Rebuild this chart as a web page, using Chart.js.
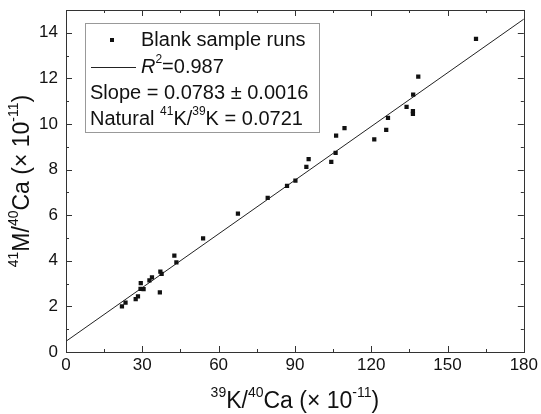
<!DOCTYPE html>
<html>

<head>
    <meta charset='utf-8'>
    <title>41M/40Ca vs 39K/40Ca</title>
    <script src="https://cdn.jsdelivr.net/npm/chart.js@4.4.1/dist/chart.umd.min.js"></script>
    <style>
        body { margin: 0; background: #fff; }
    </style>
</head>

<body>
    <canvas id="myChart" width="541" height="414"></canvas>
    <script>
        // blank sample runs (x 1e-11, y 1e-11)
        const blankX = [22.0, 23.4, 27.4, 28.3, 29.3, 29.4, 30.5, 32.8, 33.8, 37.1, 37.6, 36.9, 42.6, 43.4,
            53.9, 67.6, 79.3, 86.9, 90.2, 94.5, 95.4, 104.3, 106.0, 106.2, 109.5, 121.2, 125.9, 126.6,
            133.9, 136.5, 138.5, 136.4, 136.4, 161.2];
        const blankY = [2.00, 2.17, 2.32, 2.44, 2.77, 3.02, 2.76, 3.14, 3.27, 3.53, 3.43, 2.61, 4.23, 3.93,
            4.98, 6.07, 6.76, 7.29, 7.52, 8.12, 8.46, 8.34, 8.73, 9.49, 9.82, 9.33, 9.74, 10.27,
            10.75, 11.29, 12.08, 10.57, 10.44, 13.73];
        // linear fit end points
        const fitX = [0, 180];
        const fitY = [0.47, 14.6];

        const fontName = '"Liberation Sans", Arial, sans-serif';

        // draw text pieces, some of them superscript
        function richWidth(ctx, parts, size) {
            let w = 0;
            parts.forEach(p => {
                ctx.font = (p.it ? 'italic ' : '') + (p.sup ? Math.round(size * 0.62) : size) + 'px ' + fontName;
                w += ctx.measureText(p.t).width;
            });
            return w;
        }
        function drawRich(ctx, parts, x, y, size, align) {
            let w = richWidth(ctx, parts, size);
            let cx = align === 'center' ? x - w / 2 : x;
            ctx.textBaseline = 'middle';
            ctx.textAlign = 'left';
            parts.forEach(p => {
                ctx.font = (p.it ? 'italic ' : '') + (p.sup ? Math.round(size * 0.62) : size) + 'px ' + fontName;
                ctx.fillText(p.t, cx, p.sup ? y - size * 0.38 : y);
                cx += ctx.measureText(p.t).width;
            });
        }

        const framePlugin = {
            id: 'frame',
            afterDraw(chart) {
                const ctx = chart.ctx;
                const a = chart.chartArea;
                ctx.save();
                ctx.strokeStyle = '#333';
                ctx.lineWidth = 1;
                ctx.strokeRect(Math.round(a.left) + 0.5, Math.round(a.top) + 0.5,
                    Math.round(a.right - a.left), Math.round(a.bottom - a.top));

                // inward ticks on all four sides
                const xs = chart.scales.x, ys = chart.scales.y;
                ctx.beginPath();
                xs.ticks.forEach(t => {
                    const px = Math.round(xs.getPixelForValue(t.value)) + 0.5;
                    const len = t.value % 30 === 0 ? 6 : 3;
                    ctx.moveTo(px, a.bottom); ctx.lineTo(px, a.bottom - len);
                    ctx.moveTo(px, a.top); ctx.lineTo(px, a.top + len);
                });
                ys.ticks.forEach(t => {
                    const py = Math.round(ys.getPixelForValue(t.value)) + 0.5;
                    const len = t.value % 2 === 0 ? 6 : 3;
                    ctx.moveTo(a.left, py); ctx.lineTo(a.left + len, py);
                    ctx.moveTo(a.right, py); ctx.lineTo(a.right - len, py);
                });
                ctx.stroke();

                // axis titles
                ctx.fillStyle = '#111';
                drawRich(ctx, [{ t: '39', sup: true }, { t: 'K/' }, { t: '40', sup: true }, { t: 'Ca (× 10' },
                    { t: '-11', sup: true }, { t: ')' }], (a.left + a.right) / 2, 402, 23, 'center');
                ctx.save();
                ctx.translate(23, (a.top + a.bottom) / 2);
                ctx.rotate(-Math.PI / 2);
                drawRich(ctx, [{ t: '41', sup: true }, { t: 'M/' }, { t: '40', sup: true }, { t: 'Ca (× 10' },
                    { t: '-11', sup: true }, { t: ')' }], 0, 0, 23, 'center');
                ctx.restore();

                // legend box
                const bx = 85, by = 23, bw = 234, bh = 109;
                ctx.fillStyle = '#fff';
                ctx.fillRect(bx, by, bw, bh);
                ctx.strokeStyle = '#999';
                ctx.strokeRect(bx + 0.5, by + 0.5, bw, bh);
                ctx.fillStyle = '#111';
                ctx.fillRect(110, 38, 4, 4);
                ctx.strokeStyle = '#222';
                ctx.beginPath();
                ctx.moveTo(91, 67.5); ctx.lineTo(136, 67.5);
                ctx.stroke();
                drawRich(ctx, [{ t: 'Blank sample runs' }], 141, 40, 20, 'left');
                drawRich(ctx, [{ t: 'R', it: true }, { t: '2', sup: true }, { t: '=0.987' }], 141, 67, 20, 'left');
                drawRich(ctx, [{ t: 'Slope = 0.0783 ± 0.0016' }], 90, 93, 20, 'left');
                drawRich(ctx, [{ t: 'Natural ' }, { t: '41', sup: true }, { t: 'K/' }, { t: '39', sup: true },
                    { t: 'K = 0.0721' }], 90, 119, 20, 'left');
                ctx.restore();
            }
        };

        const ctx = document.getElementById('myChart').getContext('2d');
        const myChart = new Chart(ctx, {
            type: 'scatter',
            data: {
                datasets: [{
                        label: 'Blank sample runs',
                        data: blankX.map((x, i) => ({ x: x, y: blankY[i] })),
                        backgroundColor: '#111',
                        borderColor: '#111',
                        pointStyle: 'rect',
                        pointRadius: 3,
                        borderWidth: 0
                    },
                    {
                        type: 'line',
                        label: 'Fit',
                        data: fitX.map((x, i) => ({ x: x, y: fitY[i] })),
                        borderColor: '#222',
                        borderWidth: 1,
                        pointRadius: 0,
                        fill: false
                    }
                ]
            },
            options: {
                responsive: false,
                animation: false,
                layout: { padding: { top: 10, right: 14, left: 0, bottom: 0 } },
                plugins: {
                    legend: { display: false },
                    tooltip: { enabled: false }
                },
                scales: {
                    x: {
                        type: 'linear',
                        min: 0,
                        max: 180,
                        grid: { display: false, drawTicks: false },
                        border: { display: false },
                        ticks: {
                            stepSize: 15,
                            autoSkip: false,
                            maxRotation: 0,
                            padding: 3,
                            color: '#111',
                            font: { family: fontName, size: 17 },
                            callback: v => v % 30 === 0 ? v : ''
                        },
                        afterFit: s => { s.height = 62; }
                    },
                    y: {
                        type: 'linear',
                        min: 0,
                        max: 15,
                        grid: { display: false, drawTicks: false },
                        border: { display: false },
                        ticks: {
                            stepSize: 1,
                            autoSkip: false,
                            padding: 8,
                            color: '#111',
                            font: { family: fontName, size: 17 },
                            callback: v => v % 2 === 0 ? v : ''
                        },
                        afterFit: s => {
                            s.width = 66;
                            s.paddingTop = 0;
                            s.paddingBottom = 0;
                        }
                    }
                }
            },
            plugins: [framePlugin]
        });
    </script>
</body>

</html>
